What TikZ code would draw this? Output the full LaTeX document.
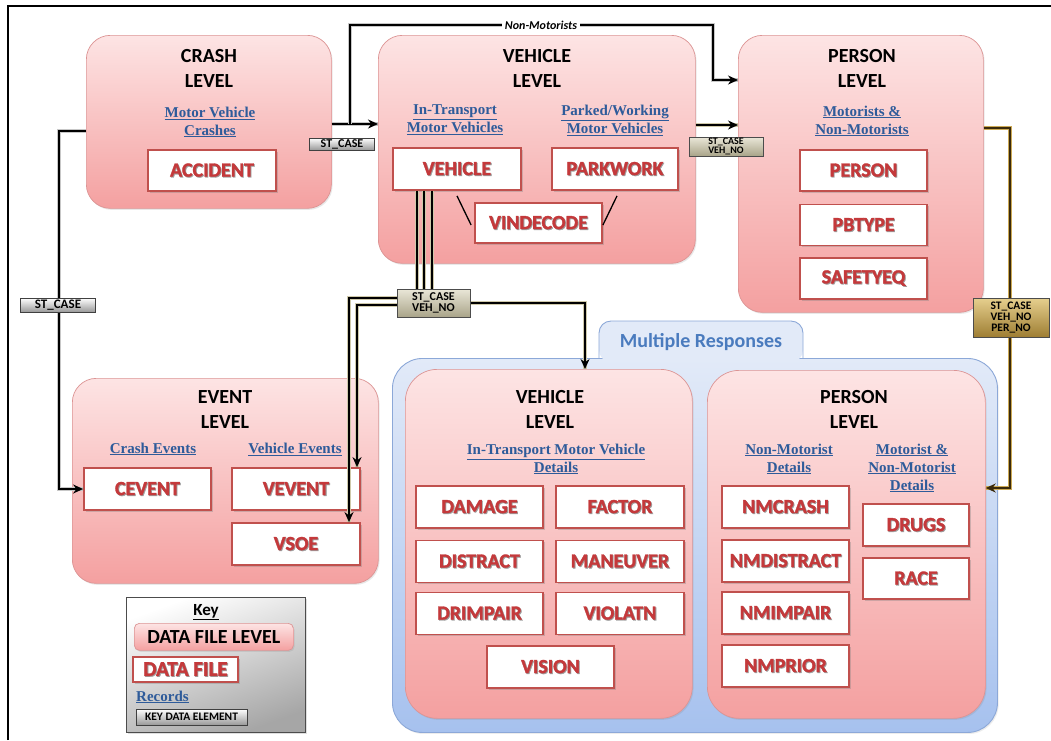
\documentclass[tikz,border=0pt]{standalone}
\usepackage{fontspec}
\setmainfont{Carlito}
\newfontfamily\serifsub{Liberation Serif}
\newfontfamily\filefont{Carlito Bold}[FakeBold=1.6]
\usetikzlibrary{arrows.meta,shadows,calc}

\definecolor{pinkTop}{HTML}{FDE4E4}
\definecolor{pinkBot}{HTML}{F4A0A0}
\definecolor{pinkEdge}{HTML}{DC9494}
\definecolor{fileRed}{HTML}{C0504D}
\definecolor{fileText}{HTML}{C4393B}
\definecolor{subBlue}{HTML}{2E5B9A}
\definecolor{blueTop}{HTML}{E2EAF8}
\definecolor{blueBot}{HTML}{A6C1EE}
\definecolor{blueEdge}{HTML}{8CA8D8}
\definecolor{mrText}{HTML}{4A7BBE}
\definecolor{khaki}{HTML}{CFC9AA}
\definecolor{khakiTop}{HTML}{EAE7D8}
\definecolor{khakiBot}{HTML}{A9A489}
\definecolor{goldHalo}{HTML}{CDAA55}
\definecolor{goldTop}{HTML}{E6CF8E}
\definecolor{goldBot}{HTML}{9E7E33}
\definecolor{brownLine}{HTML}{3A2A0C}

\newcommand\fsz[2]{\fontsize{#1}{#2}\selectfont}
\newcommand\subl[1]{\underline{#1}}
% red file names carry a soft dark drop behind the letters
\newcommand\shtxt[1]{\makebox[0pt][l]{\hspace{0.9pt}\raisebox{-0.9pt}{\textcolor{black!38}{#1}}}#1}

\pgfdeclarelayer{front}
\pgfsetlayers{main,front}

\begin{document}
\begin{tikzpicture}[x=1pt,y=-1pt,
  levelbox/.style={rounded corners=24pt, draw=pinkEdge, line width=0.7pt,
    top color=pinkTop, bottom color=pinkBot, anchor=north west, inner sep=0pt,
    drop shadow={shadow xshift=1.2pt, shadow yshift=-1.5pt, opacity=0.18}},
  filebox/.style={draw=fileRed, line width=1.8pt, fill=white,
    minimum width=127pt, minimum height=41pt, inner sep=0pt,
    font=\filefont\fsz{20}{22}, text=fileText,
    drop shadow={shadow xshift=1.8pt, shadow yshift=-1.8pt, opacity=0.35}},
  title/.style={align=center, font=\fsz{20}{25}\bfseries, text=black, inner sep=0pt},
  subtitle/.style={align=center, font=\serifsub\fsz{15}{18}\bfseries, text=subBlue, inner sep=0pt},
  keytag/.style={draw=black!75, line width=0.8pt, top color=white, bottom color=black!40,
    inner sep=0pt, align=center},
  khakitag/.style={draw=black!70, line width=0.8pt, top color=khakiTop, bottom color=khakiBot,
    inner sep=0pt, align=center},
  goldtag/.style={draw=black!70, line width=0.8pt, top color=goldTop, bottom color=goldBot,
    inner sep=0pt, align=center},
  tip/.style={-{Stealth[length=10pt,width=9pt]}},
  link/.style={draw=black, line width=1.5pt, preaction={draw=black!22, line width=3.6pt, arrows=-}},
  klink/.style={draw=black, line width=1.5pt, preaction={draw=khaki, line width=4pt, arrows=-}},
  klinkthin/.style={draw=black, line width=1.2pt, preaction={draw=khaki, line width=4.5pt, arrows=-}},
  glink/.style={draw=brownLine, line width=1.6pt, preaction={draw=goldHalo, line width=4.2pt, arrows=-}}
]
\useasboundingbox (0,0) rectangle (1051,740);
\fill[white] (0,0) rectangle (1051,740);
\draw[line width=1.5pt] (8,740) -- (8,6) -- (1051,6);

% ---------- level containers ----------
\node[levelbox, minimum width=245pt, minimum height=173pt] (crashL) at (86,35) {};
\node[levelbox, minimum width=317pt, minimum height=228pt] (vehL) at (378,35) {};
\node[levelbox, minimum width=245pt, minimum height=277pt] (perL) at (738,35) {};
\node[levelbox, minimum width=306pt, minimum height=205pt] (evtL) at (72,378) {};

% multiple-responses group
\node[anchor=north west, minimum width=605pt, minimum height=374pt, rounded corners=30pt,
  draw=blueEdge, line width=0.9pt, top color=blueTop, bottom color=blueBot, inner sep=0pt,
  drop shadow={shadow xshift=1.2pt, shadow yshift=-1.5pt, opacity=0.15}] (mrG) at (392,358) {};
\fill[blueTop, rounded corners=12pt] (599,362) -- (599,321) -- (803,321) -- (803,362) -- cycle;
\draw[blueEdge, line width=0.9pt, rounded corners=12pt] (599,358.5) -- (599,321) -- (803,321) -- (803,358.5);
\node[font=\fsz{20}{22}\bfseries, text=mrText] (mrT) at (701,342) {Multiple Responses};

\node[levelbox, minimum width=287pt, minimum height=349pt, rounded corners=32pt] (vehD) at (405,369) {};
\node[levelbox, minimum width=278pt, minimum height=348pt, rounded corners=32pt] (perD) at (707,370) {};

% ---------- titles ----------
\node[title] (crashT) at (209,68.5) {CRASH\\LEVEL};
\node[title] (vehT) at (537,68.5) {VEHICLE\\LEVEL};
\node[title] (perT) at (862,68.5) {PERSON\\LEVEL};
\node[title] (evtT) at (225,410) {EVENT\\LEVEL};
\node[title] (vehDT) at (550,409) {VEHICLE\\LEVEL};
\node[title] (perDT) at (854,409) {PERSON\\LEVEL};

% ---------- record headings ----------
\node[subtitle] (crashS) at (210,122) {\subl{Motor Vehicle}\\\subl{Crashes}};
\node[subtitle] (vehS1) at (455,120) {\subl{In-Transport}\\\subl{Motor Vehicles}};
\node[subtitle] (vehS2) at (615,120) {\subl{Parked/Working}\\\subl{Motor Vehicles}};
\node[subtitle] (perS) at (862,121) {\subl{Motorists \&}\\\subl{Non-Motorists}};
\node[subtitle] (evtS1) at (153,449) {\subl{Crash Events}};
\node[subtitle] (evtS2) at (295,449) {\subl{Vehicle Events}};
\node[subtitle] (vehDS) at (556,459) {\subl{In-Transport Motor Vehicle}\\\subl{Details}};
\node[subtitle] (perDS1) at (789,459) {\subl{Non-Motorist}\\\subl{Details}};
\node[subtitle] (perDS2) at (912,468) {\subl{Motorist \&}\\\subl{Non-Motorist}\\\subl{Details}};

% ---------- data files ----------
\node[filebox, minimum width=128pt] (accident) at (212,170.5) {\shtxt{ACCIDENT}};
\node[filebox, minimum width=128pt, minimum height=42pt] (vehicle) at (457,169) {\shtxt{VEHICLE}};
\node[filebox, minimum width=126pt, minimum height=42pt] (parkwork) at (615,169) {\shtxt{PARKWORK}};
\node[filebox, minimum height=40pt] (vindecode) at (538.5,223) {\shtxt{VINDECODE}};
\node[filebox] (person) at (863.5,170.5) {\shtxt{PERSON}};
\node[filebox] (pbtype) at (863.5,225) {\shtxt{PBTYPE}};
\node[filebox] (safetyeq) at (863.5,278.5) {\shtxt{SAFETYEQ}};
\node[filebox, minimum height=42pt] (cevent) at (147.5,489) {\shtxt{CEVENT}};
\node[filebox, minimum width=128pt, minimum height=42pt] (vevent) at (296,489) {\shtxt{VEVENT}};
\node[filebox, minimum width=128pt, minimum height=42pt] (vsoe) at (296,544) {\shtxt{VSOE}};
\node[filebox, minimum height=42pt] (damage) at (479.5,507) {\shtxt{DAMAGE}};
\node[filebox, minimum width=128pt, minimum height=42pt] (factor) at (620,507) {\shtxt{FACTOR}};
\node[filebox, minimum height=42pt] (distract) at (479.5,561.5) {\shtxt{DISTRACT}};
\node[filebox, minimum width=128pt, minimum height=42pt] (maneuver) at (620,561.5) {\shtxt{MANEUVER}};
\node[filebox, minimum height=42pt] (drimpair) at (479.5,613.5) {\shtxt{DRIMPAIR}};
\node[filebox, minimum width=128pt, minimum height=42pt] (violatn) at (620,613.5) {\shtxt{VIOLATN}};
\node[filebox, minimum height=42pt] (vision) at (550.5,667) {\shtxt{VISION}};
\node[filebox, minimum height=42pt] (nmcrash) at (785.5,507) {\shtxt{NMCRASH}};
\node[filebox, minimum height=42pt] (nmdistract) at (785.5,561) {\shtxt{NMDISTRACT}};
\node[filebox, minimum height=42pt] (nmimpair) at (785.5,613) {\shtxt{NMIMPAIR}};
\node[filebox, minimum height=42pt] (nmprior) at (785.5,666) {\shtxt{NMPRIOR}};
\node[filebox, minimum width=106pt, minimum height=42pt] (drugs) at (916,525) {\shtxt{DRUGS}};
\node[filebox, minimum width=106pt, minimum height=41pt] (race) at (916,578.5) {\shtxt{RACE}};

% VINDECODE ties to both vehicle files
\draw[line width=1.3pt] ([yshift=-5pt]vehicle.south) -- ([xshift=-3pt,yshift=-2pt]vindecode.west);
\draw[line width=1.3pt] ($(parkwork.south)+(2,5)$) -- ([yshift=-2pt]vindecode.east);

% ---------- key data element tags (on top of the lines) ----------
\begin{pgfonlayer}{front}
\node[keytag, minimum width=65pt, minimum height=12pt, font=\fsz{12}{10}\bfseries] (lab1) at (342,144) {ST\_CASE};
\node[khakitag, minimum width=74pt, minimum height=19pt, font=\fsz{10}{9}\bfseries] (lab2) at (726,146.5) {ST\_CASE\\VEH\_NO};
\node[keytag, minimum width=75pt, minimum height=14pt, font=\fsz{13}{11}\bfseries] (lab3) at (58,305) {ST\_CASE};
\node[khakitag, minimum width=73pt, minimum height=28pt, font=\fsz{12}{11.5}\bfseries] (lab4) at (433.5,303) {ST\_CASE\\VEH\_NO};
\node[goldtag, minimum width=76pt, minimum height=39pt, font=\fsz{11.5}{11}\bfseries] (lab5) at (1011,317.5) {ST\_CASE\\VEH\_NO\\PER\_NO};
\node[fill=white, inner sep=3pt, font=\fsz{12}{12}\bfseries\itshape] (nmL) at (541,25) {Non-Motorists};
\end{pgfonlayer}

% ---------- connectors ----------
\coordinate (branch) at (350,124);
\draw[link,tip] (crashL.east |- branch) -- (vehL.west |- branch);
\draw[link,tip] (branch) |- (713,25) |- (perL.west |- 0,80);
\draw[klink,tip] (vehL.east |- 0,125) -- (perL.west |- 0,125);
\draw[link,tip] (crashL.west |- 0,131) -| (59,300) |- (cevent.west);
\foreach \dx in {-40,-33,-25}
  \draw[klinkthin] ([xshift=\dx pt]vehicle.south) -- ([xshift=\dx pt]vehicle.south |- lab4.north);
\draw[klink,tip] (lab4.west |- 0,298) -| (vsoe.north -| 349,0);
\draw[klink,tip] (lab4.west |- 0,305) -| (vevent.north -| 357,0);
\draw[klink,tip] (lab4.east) -| (vehD.north -| 585,0);
\draw[glink,tip] (perL.east |- 0,128) -| (1010,300) |- (perD.east |- 0,488);

% ---------- key ----------
\node[anchor=north west, minimum width=179pt, minimum height=135pt, inner sep=0pt,
  draw=black!70, line width=0.9pt, shading=axis, top color=white, bottom color=black!35,
  shading angle=20, drop shadow={shadow xshift=1.2pt, shadow yshift=-1.5pt, opacity=0.25}] (key) at (126,597) {};
\node[font=\fsz{17}{18}\bfseries] (keyT) at (206,612) {\underline{Key}};
\node[levelbox, rounded corners=5pt, minimum width=159pt, minimum height=27pt,
  font=\fsz{20}{20}\bfseries] (keyLevel) at (134,623) {DATA FILE LEVEL};
\node[filebox, minimum width=105pt, minimum height=25pt, font=\filefont\fsz{21}{21}] (keyFile) at (185.5,669.5) {\shtxt{DATA FILE}};
\node[subtitle, anchor=west] (keyRec) at (136,697) {\subl{Records}};
\node[keytag, minimum width=111pt, minimum height=16pt, font=\fsz{11.5}{10}\bfseries] (keyElem) at (191.5,717) {KEY DATA ELEMENT};
\end{tikzpicture}
\end{document}
